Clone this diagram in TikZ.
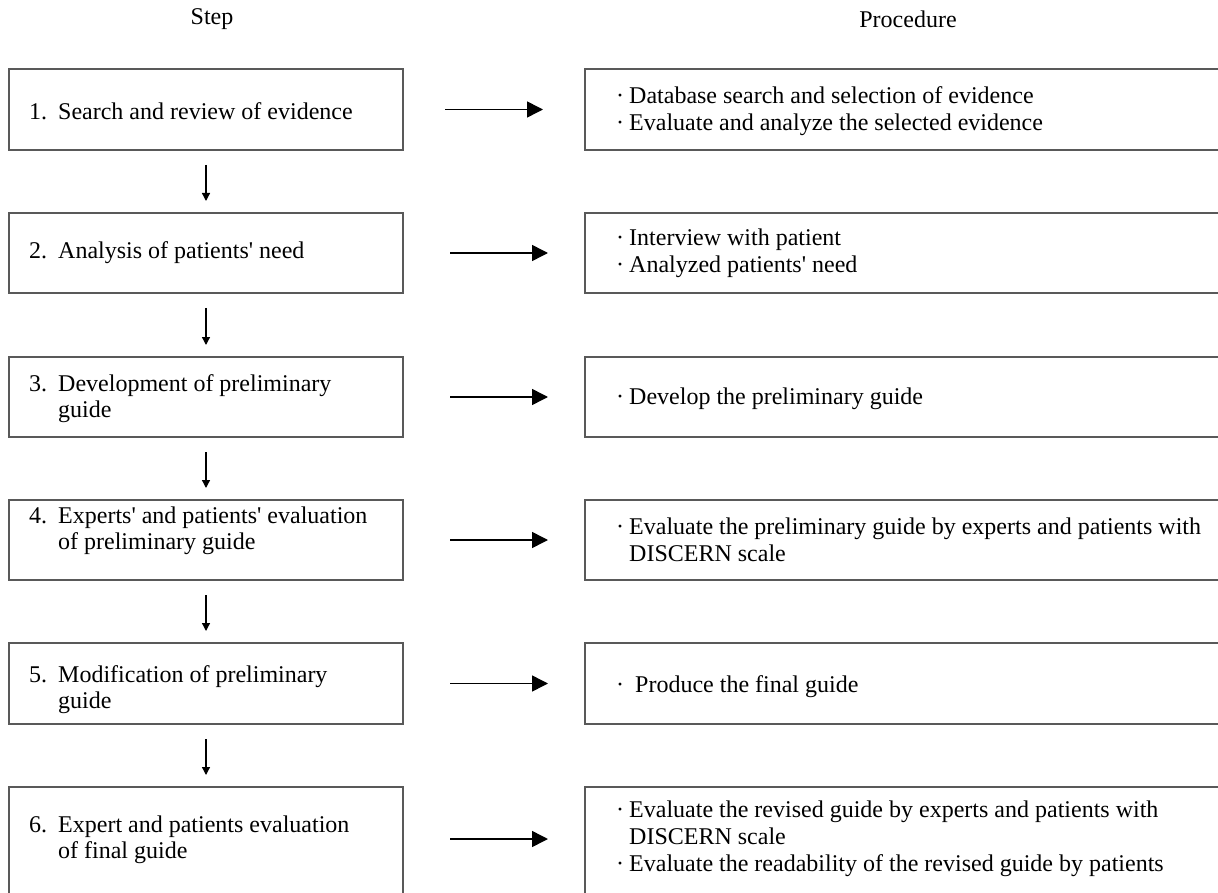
\documentclass[tikz,border=0pt]{standalone}
\usepackage{fontspec}
\setmainfont{Liberation Serif}[Ligatures=TeXOff]
\usetikzlibrary{arrows.meta,calc}
\newcommand\lnum[1]{\makebox[29pt][l]{#1}}
\newcommand\bul{\makebox[13pt][l]{·}}
\begin{document}
\begin{tikzpicture}[x=1pt,y=-1pt,
  box/.style={draw=black!65, line width=1.3pt, rectangle, inner sep=0pt, outer sep=0pt},
  lbox/.style={box, minimum width=394pt},
  rbox/.style={box, minimum width=655pt},
  ltxt/.style={anchor=west, inner sep=0pt, align=left, font=\fontsize{24}{26}\selectfont},
  rtxt/.style={anchor=west, inner sep=0pt, align=left, font=\fontsize{24}{27}\selectfont},
  head/.style={inner sep=0pt, font=\fontsize{24}{26}\selectfont},
  harrow/.style={line width=1.5pt, -{Triangle[length=16pt,width=16pt]}},
  varrow/.style={line width=1.3pt, -{Triangle[length=8pt,width=8pt]}, shorten <=15pt, shorten >=12pt}]
\useasboundingbox (0,0) rectangle (1218,893);
\clip (0,0) rectangle (1218,893);

% headers
\node[head] (hstep) at (212,19) {Step};
\node[head] (hproc) at (908,19) {Procedure};

% left boxes
\node[lbox, minimum height=81pt] (L1) at (206,109.5) {};
\node[lbox, minimum height=80pt] (L2) at (206,253) {};
\node[lbox, minimum height=80pt] (L3) at (206,397) {};
\node[lbox, minimum height=80pt] (L4) at (206,540) {};
\node[lbox, minimum height=81pt] (L5) at (206,683.5) {};
\node[lbox, minimum height=140pt] (L6) at (206,857) {};

% right boxes
\node[rbox, minimum height=81pt] (R1) at (912.5,109.5) {};
\node[rbox, minimum height=80pt] (R2) at (912.5,253) {};
\node[rbox, minimum height=80pt] (R3) at (912.5,397) {};
\node[rbox, minimum height=80pt] (R4) at (912.5,540) {};
\node[rbox, minimum height=81pt] (R5) at (912.5,683.5) {};
\node[rbox, minimum height=140pt] (R6) at (912.5,857) {};

% left texts
\node[ltxt] (T1) at (29,111) {\lnum{1.}Search and review of evidence};
\node[ltxt] (T2) at (29,253) {\lnum{2.}Analysis of patients' need};
\node[ltxt] (T3) at (29,399) {\lnum{3.}Development of preliminary\\\hspace*{29pt}guide};
\node[ltxt] (T4) at (29,531) {\lnum{4.}Experts' and patients' evaluation\\\hspace*{29pt}of preliminary guide};
\node[ltxt] (T5) at (29,690) {\lnum{5.}Modification of preliminary\\\hspace*{29pt}guide};
\node[ltxt] (T6) at (29,840) {\lnum{6.}Expert and patients evaluation\\\hspace*{29pt}of final guide};

% right texts
\node[rtxt] (P1) at (616,111) {\bul Database search and selection of evidence\\\bul Evaluate and analyze the selected evidence};
\node[rtxt] (P2) at (616,253) {\bul Interview with patient\\\bul Analyzed patients' need};
\node[rtxt] (P3) at (616,399) {\bul Develop the preliminary guide};
\node[rtxt] (P4) at (616,540) {\bul Evaluate the preliminary guide by experts and patients with\\\hspace*{13pt}DISCERN scale};
\node[rtxt] (P5) at (616,687) {\makebox[19pt][l]{·}Produce the final guide};
\node[rtxt] (P6) at (616,839) {\bul Evaluate the revised guide by experts and patients with\\\hspace*{13pt}DISCERN scale\\\bul Evaluate the readability of the revised guide by patients};

% horizontal arrows
\draw[harrow, shorten <=42pt, shorten >=42pt] (L1.east) -- (R1.west);
\draw[harrow, shorten <=47pt, shorten >=37pt] (L2.east) -- (R2.west);
\draw[harrow, shorten <=47pt, shorten >=37pt] (L3.east) -- (R3.west);
\draw[harrow, shorten <=47pt, shorten >=37pt] (L4.east) -- (R4.west);
\draw[harrow, shorten <=47pt, shorten >=37pt] (L5.east) -- (R5.west);
\draw[harrow, shorten <=47pt, shorten >=37pt] ($(L6.north east)+(0,52)$) -- ($(R6.north west)+(0,52)$);

% vertical arrows
\draw[varrow] (L1.south) -- (L2.north);
\draw[varrow] (L2.south) -- (L3.north);
\draw[varrow] (L3.south) -- (L4.north);
\draw[varrow] (L4.south) -- (L5.north);
\draw[varrow] (L5.south) -- (L6.north);
\end{tikzpicture}
\end{document}
